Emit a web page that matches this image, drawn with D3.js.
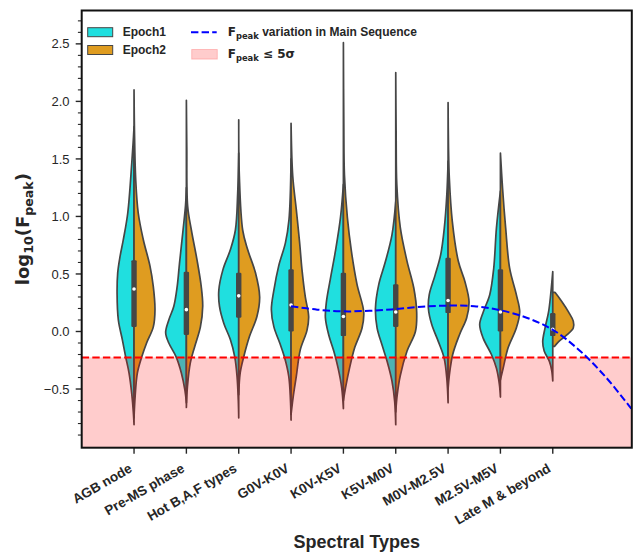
<!DOCTYPE html>
<html><head><meta charset="utf-8">
<script src="https://cdn.jsdelivr.net/npm/d3@7"></script>
<style>body{margin:0;background:#fff} svg{display:block}</style>
</head><body><svg id="c" width="635" height="552"></svg>
<script>
// ---------------- DATA ----------------
const categories = ["AGB node","Pre-MS phase","Hot B,A,F types","G0V-K0V","K0V-K5V","K5V-M0V","M0V-M2.5V","M2.5V-M5V","Late M & beyond"];

// [log10(Fpeak), relative density] knots for each half violin (Epoch1 left, Epoch2 right)
const epoch1Density = [
  [[1.78,0],[1.65,0.04],[1.46,0.11],[1.03,0.30],[0.80,0.51],[0.65,0.67],[0.51,0.78],[0.33,0.81],[0.10,0.75],[-0.07,0.56],[-0.22,0.40],[-0.36,0.24],[-0.54,0.11],[-0.71,0.03],[-0.81,0]],
  [[1.25,0],[1.10,0.04],[0.88,0.16],[0.59,0.33],[0.39,0.44],[0.22,0.60],[0.10,0.84],[-0.01,0.99],[-0.10,0.84],[-0.22,0.49],[-0.36,0.24],[-0.51,0.07],[-0.62,0]],
  [[1.55,0],[1.20,0.05],[0.88,0.16],[0.71,0.40],[0.54,0.75],[0.36,0.95],[0.22,0.92],[0.07,0.71],[-0.07,0.40],[-0.22,0.19],[-0.39,0.08],[-0.60,0.02],[-0.75,0]],
  [[1.50,0],[0.97,0.10],[0.77,0.27],[0.57,0.59],[0.36,0.82],[0.19,0.94],[0.04,0.82],[-0.10,0.54],[-0.22,0.32],[-0.39,0.11],[-0.59,0.03],[-0.77,0]],
  [[1.28,0],[0.99,0.14],[0.70,0.38],[0.46,0.62],[0.26,0.81],[0.12,0.86],[-0.03,0.70],[-0.17,0.46],[-0.32,0.25],[-0.49,0.08],[-0.67,0]],
  [[1.13,0],[0.84,0.18],[0.61,0.49],[0.41,0.81],[0.20,0.97],[0.03,0.89],[-0.12,0.65],[-0.26,0.41],[-0.43,0.18],[-0.61,0.05],[-0.81,0]],
  [[1.48,0],[1.19,0.06],[0.90,0.18],[0.67,0.35],[0.49,0.62],[0.32,0.90],[0.20,0.94],[0.06,0.78],[-0.09,0.46],[-0.23,0.19],[-0.41,0.06],[-0.62,0]],
  [[1.22,0],[0.90,0.19],[0.55,0.32],[0.32,0.51],[0.17,0.82],[0.06,0.99],[-0.06,0.82],[-0.20,0.43],[-0.32,0.19],[-0.46,0.05],[-0.57,0]],
  [[0.52,0],[0.32,0.10],[0.17,0.20],[0.03,0.37],[-0.09,0.48],[-0.17,0.41],[-0.26,0.16],[-0.34,0.05],[-0.43,0]]
];
const epoch2Density = [
  [[2.10,0],[1.75,0.02],[1.32,0.08],[1.03,0.20],[0.80,0.44],[0.57,0.76],[0.39,0.92],[0.19,1.00],[0.04,0.92],[-0.10,0.60],[-0.22,0.37],[-0.36,0.16],[-0.57,0.05],[-0.75,0]],
  [[2.01,0],[1.60,0.02],[1.09,0.06],[0.88,0.24],[0.62,0.51],[0.39,0.71],[0.22,0.78],[0.04,0.67],[-0.13,0.40],[-0.27,0.19],[-0.48,0.05],[-0.66,0]],
  [[1.84,0],[1.35,0.03],[0.88,0.19],[0.71,0.43],[0.51,0.80],[0.30,1.00],[0.13,0.87],[-0.04,0.52],[-0.22,0.24],[-0.36,0.07],[-0.55,0]],
  [[1.81,0],[1.35,0.08],[1.06,0.25],[0.77,0.41],[0.54,0.52],[0.30,0.68],[0.13,0.84],[0.01,0.76],[-0.16,0.44],[-0.39,0.25],[-0.57,0.10],[-0.72,0]],
  [[2.51,0],[1.80,0.02],[1.36,0.05],[0.99,0.19],[0.70,0.38],[0.41,0.65],[0.17,0.97],[0.03,0.89],[-0.14,0.54],[-0.32,0.29],[-0.49,0.10],[-0.60,0]],
  [[2.25,0],[1.70,0.02],[1.28,0.05],[0.90,0.22],[0.61,0.54],[0.38,0.86],[0.17,1.00],[0.00,0.94],[-0.17,0.54],[-0.38,0.22],[-0.55,0.07],[-0.70,0]],
  [[1.99,0],[1.60,0.02],[1.33,0.06],[0.96,0.20],[0.61,0.49],[0.43,0.81],[0.26,1.00],[0.12,0.89],[-0.03,0.54],[-0.20,0.22],[-0.38,0.06],[-0.50,0]],
  [[1.55,0],[1.25,0.10],[0.90,0.25],[0.55,0.44],[0.32,0.76],[0.17,0.92],[0.03,0.76],[-0.14,0.37],[-0.32,0.13],[-0.42,0]],
  [[0.34,0.10],[0.33,0.15],[0.26,0.43],[0.17,0.75],[0.09,0.98],[0.03,0.98],[-0.03,0.67],[-0.09,0.27],[-0.13,0.08]]
];
const boxQ1     = [0.04,-0.03,0.12,0.00,-0.04,0.04,0.16,0.00,-0.04];
const boxMedian = [0.37, 0.19,0.31,0.23, 0.13,0.17,0.27,0.17, 0.02];
const boxQ3     = [0.62, 0.52,0.51,0.54, 0.51,0.41,0.64,0.54, 0.16];

// Fpeak variation in main sequence (category position, log10 Fpeak)
const msPos = [3,3.5,4,4.5,5,5.5,6,6.5,7,7.5,8,8.5,9,9.5];
const msVal = [0.22,0.19,0.175,0.18,0.195,0.215,0.225,0.22,0.185,0.12,0.015,-0.16,-0.39,-0.67];

const threshold5sigma = -0.225;
const yMajorTicks = [-0.5,0.0,0.5,1.0,1.5,2.0,2.5];
const yTickLabels = ["\u22120.5","0.0","0.5","1.0","1.5","2.0","2.5"];
const yMinorTicks = [-0.9,-0.8,-0.7,-0.6,-0.4,-0.3,-0.2,-0.1,0.1,0.2,0.3,0.4,0.6,0.7,0.8,0.9,1.1,1.2,1.3,1.4,1.6,1.7,1.8,1.9,2.1,2.2,2.3,2.4,2.6,2.7];

const colorE1 = "#20dfdf", colorE2 = "#df9c20", lineGray = "#464646", textCol = "#262626";

// ---------------- CHART ----------------
const svg = d3.select("#c");
const L = 81.7, R = 631.8, T = 10.5, B = 447.7;
const x = d3.scaleLinear().domain([-1, 9.51]).range([L, R]);
const y = d3.scaleLinear().domain([-1.01, 2.79]).range([B, T]);
const w = d3.scaleLinear().domain([0, 1]).range([0, x(0.4) - x(0)]);

svg.append("defs").append("clipPath").attr("id","clip")
  .append("rect").attr("x",L).attr("y",T).attr("width",R-L).attr("height",B-T);

const g = svg.append("g").attr("clip-path","url(#clip)");

function halfArea(cx, side) {
  return d3.area().curve(d3.curveCatmullRom.alpha(0.5))
    .y(d => y(d[0])).x0(cx).x1(d => cx + side * w(d[1]));
}

categories.forEach((c, i) => {
  const cx = x(i);
  g.append("path").datum(epoch1Density[i]).attr("d", halfArea(cx, -1))
    .attr("fill", colorE1).attr("stroke", lineGray).attr("stroke-width", 1.7).attr("stroke-linejoin","round");
  g.append("path").datum(epoch2Density[i]).attr("d", halfArea(cx, 1))
    .attr("fill", colorE2).attr("stroke", lineGray).attr("stroke-width", 1.7).attr("stroke-linejoin","round");
});

// inner boxes
categories.forEach((c, i) => {
  const cx = x(i);
  g.append("rect").attr("x", cx - 2.7).attr("width", 5.4)
    .attr("y", y(boxQ3[i])).attr("height", y(boxQ1[i]) - y(boxQ3[i]))
    .attr("rx", 1.2).attr("fill", lineGray);
  g.append("circle").attr("cx", cx).attr("cy", y(boxMedian[i])).attr("r", 1.8).attr("fill", "#fff");
});

// 5 sigma shaded region
g.append("rect").attr("x", L).attr("width", R - L)
  .attr("y", y(threshold5sigma)).attr("height", B - y(threshold5sigma))
  .attr("fill", "red").attr("fill-opacity", 0.2);
g.append("line").attr("x1", L).attr("x2", R).attr("y1", y(threshold5sigma)).attr("y2", y(threshold5sigma))
  .attr("stroke", "red").attr("stroke-width", 2).attr("stroke-dasharray", "7.4,3.2");

// main sequence line
g.append("path").datum(msPos.map((p, k) => [p, msVal[k]]))
  .attr("d", d3.line().curve(d3.curveCatmullRom).x(d => x(d[0])).y(d => y(d[1])))
  .attr("fill", "none").attr("stroke", "blue").attr("stroke-width", 2).attr("stroke-dasharray", "7.4,3.2");

// y axis ticks
const ax = svg.append("g");
yMinorTicks.forEach(t => ax.append("line").attr("x1", L).attr("x2", L - 3.8).attr("y1", y(t)).attr("y2", y(t))
  .attr("stroke", textCol).attr("stroke-width", 1.1));
yMajorTicks.forEach((t, k) => {
  ax.append("line").attr("x1", L).attr("x2", L - 6).attr("y1", y(t)).attr("y2", y(t))
    .attr("stroke", textCol).attr("stroke-width", 1.4);
  ax.append("text").attr("x", L - 12.2).attr("y", y(t) + 4.6).attr("text-anchor", "end")
    .attr("font-family", "Liberation Sans, Arial, sans-serif").attr("font-size", 13).attr("fill", textCol)
    .text(yTickLabels[k]);
});
// x axis ticks
categories.forEach((c, i) => {
  ax.append("line").attr("x1", x(i)).attr("x2", x(i)).attr("y1", B).attr("y2", B + 6)
    .attr("stroke", textCol).attr("stroke-width", 1.4);
  ax.append("text").attr("text-anchor", "end")
    .attr("transform", `translate(${x(i) - 1},471) rotate(-30)`)
    .attr("font-family", "Liberation Sans, Arial, sans-serif").attr("font-weight", "bold")
    .attr("font-size", 13.5).attr("fill", textCol).text(c);
});

// frame
svg.append("rect").attr("x", L).attr("y", T).attr("width", R - L).attr("height", B - T)
  .attr("fill", "none").attr("stroke", "#111").attr("stroke-width", 2);

// axis titles
svg.append("text").attr("x", (L + R) / 2).attr("y", 548).attr("text-anchor", "middle")
  .attr("font-family", "Liberation Sans, Arial, sans-serif").attr("font-weight", "bold")
  .attr("font-size", 18).attr("fill", textCol).text("Spectral Types");

const yl = svg.append("text").attr("transform", `translate(29,${(T + B) / 2}) rotate(-90)`)
  .attr("text-anchor", "middle").attr("font-family", "DejaVu Sans, sans-serif")
  .attr("font-weight", "bold").attr("font-size", 18).attr("fill", textCol);
yl.append("tspan").text("log");
yl.append("tspan").attr("font-size", 12.6).attr("dy", 4).text("10");
yl.append("tspan").attr("dy", -4).text("(F");
yl.append("tspan").attr("font-size", 12.6).attr("dy", 4).text("peak");
yl.append("tspan").attr("dy", -4).text(")");

// legend
const lg = svg.append("g");
lg.append("rect").attr("x", 87.7).attr("y", 27.7).attr("width", 25).attr("height", 9)
  .attr("fill", colorE1).attr("stroke", lineGray).attr("stroke-width", 1);
lg.append("rect").attr("x", 87.7).attr("y", 45.5).attr("width", 25).attr("height", 9)
  .attr("fill", colorE2).attr("stroke", lineGray).attr("stroke-width", 1);
lg.append("text").attr("x", 122.7).attr("y", 36.4).attr("font-family", "Liberation Sans, Arial, sans-serif")
  .attr("font-weight", "bold").attr("font-size", 12).attr("fill", textCol).text("Epoch1");
lg.append("text").attr("x", 122.7).attr("y", 54.2).attr("font-family", "Liberation Sans, Arial, sans-serif")
  .attr("font-weight", "bold").attr("font-size", 12).attr("fill", textCol).text("Epoch2");
lg.append("line").attr("x1", 191).attr("x2", 216.7).attr("y1", 32.3).attr("y2", 32.3)
  .attr("stroke", "blue").attr("stroke-width", 2).attr("stroke-dasharray", "7.4,3.2");
lg.append("rect").attr("x", 191.7).attr("y", 49.5).attr("width", 25.6).attr("height", 9.6)
  .attr("fill", "red").attr("fill-opacity", 0.2).attr("stroke", "red").attr("stroke-opacity", 0.2);
const t1 = lg.append("text").attr("x", 227.7).attr("y", 35.8).attr("font-weight", "bold")
  .attr("font-size", 12).attr("fill", textCol);
t1.append("tspan").attr("font-family", "DejaVu Sans, sans-serif").text("F");
t1.append("tspan").attr("font-family", "DejaVu Sans, sans-serif").attr("font-size", 8.4).attr("dy", 3).text("peak");
t1.append("tspan").attr("font-family", "Liberation Sans, Arial, sans-serif").attr("dy", -3).text(" variation in Main Sequence");
const t2 = lg.append("text").attr("x", 227.7).attr("y", 57.8).attr("font-weight", "bold")
  .attr("font-size", 12).attr("fill", textCol).attr("font-family", "DejaVu Sans, sans-serif");
t2.append("tspan").text("F");
t2.append("tspan").attr("font-size", 8.4).attr("dy", 3).text("peak");
t2.append("tspan").attr("dy", -3).text(" \u2264 5\u03c3");
</script></body></html>
